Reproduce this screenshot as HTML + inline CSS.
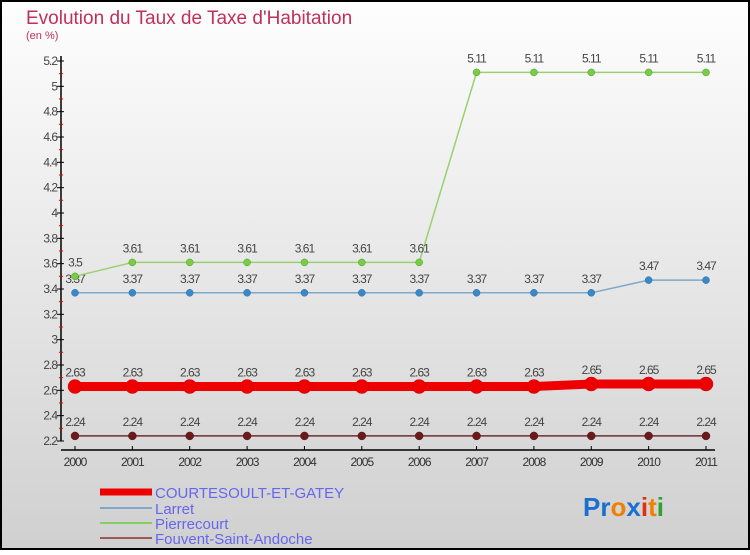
<!DOCTYPE html>
<html><head><meta charset="utf-8"><style>
body{margin:0;width:750px;height:550px;overflow:hidden;font-family:"Liberation Sans",sans-serif}
</style></head><body>
<svg id="c" width="750" height="550" xmlns="http://www.w3.org/2000/svg">
<defs><linearGradient id="bg" x1="0" y1="0" x2="0" y2="1"><stop offset="0" stop-color="#fefefe"/><stop offset="1" stop-color="#d0d0d0"/></linearGradient></defs>
<rect x="1" y="1" width="748" height="548" fill="url(#bg)" stroke="#000" stroke-width="2"/>
<text x="26" y="24" font-size="19" fill="#c0305a">Evolution du Taux de Taxe d'Habitation</text>
<text x="26" y="39" font-size="11" fill="#c0305a">(en %)</text>
<g id="axes"></g><g id="series"></g>
<g>
<line x1="100" y1="492" x2="152" y2="492" stroke="#e00" stroke-width="7"/>
<text x="155" y="498" font-size="15" fill="#6666ee">COURTESOULT-ET-GATEY</text>
<line x1="100" y1="508" x2="152" y2="508" stroke="#7ea8c8" stroke-width="2"/>
<text x="155" y="514" font-size="15" fill="#6666ee">Larret</text>
<line x1="100" y1="523" x2="152" y2="523" stroke="#88cc66" stroke-width="2"/>
<text x="155" y="529" font-size="15" fill="#6666ee">Pierrecourt</text>
<line x1="100" y1="538" x2="152" y2="538" stroke="#9a5a5a" stroke-width="2"/>
<text x="155" y="544" font-size="15" fill="#6666ee">Fouvent-Saint-Andoche</text>
</g>
<text x="583" y="516" font-size="26" font-weight="bold"><tspan fill="#1a6fd0">Pr</tspan><tspan fill="#f08000">o</tspan><tspan fill="#1a6fd0">x</tspan><tspan fill="#e03010">i</tspan><tspan fill="#f08000">t</tspan><tspan fill="#30a030">i</tspan></text>
</svg>
<script>
const years=[2000,2001,2002,2003,2004,2005,2006,2007,2008,2009,2010,2011];
const yTicks=[2.2,2.4,2.6,2.8,3,3.2,3.4,3.6,3.8,4,4.2,4.4,4.6,4.8,5,5.2];
const courtesoult=[2.63,2.63,2.63,2.63,2.63,2.63,2.63,2.63,2.63,2.65,2.65,2.65];
const larret=[3.37,3.37,3.37,3.37,3.37,3.37,3.37,3.37,3.37,3.37,3.47,3.47];
const pierrecourt=[3.5,3.61,3.61,3.61,3.61,3.61,3.61,5.11,5.11,5.11,5.11,5.11];
const fouvent=[2.24,2.24,2.24,2.24,2.24,2.24,2.24,2.24,2.24,2.24,2.24,2.24];
const NS="http://www.w3.org/2000/svg";
const xS=i=>75+i*(706-75)/11;
const yS=v=>441-(v-2.2)*(441-61)/3;
function mk(t,a,p){const e=document.createElementNS(NS,t);for(const k in a)e.setAttribute(k,a[k]);p.appendChild(e);return e;}
const ax=document.getElementById('axes');
const yl=mk('line',{x1:61,y1:56,x2:61,y2:441,stroke:'#000','stroke-width':1.5},ax);


const xl=mk('line',{x1:61,y1:450,x2:715,y2:450,stroke:'#000','stroke-width':1.5},ax);


yTicks.forEach((v,i)=>{const y=yS(v);mk('line',{x1:57,y1:y,x2:64,y2:y,stroke:'#000'},ax);
 if(i<yTicks.length-1)mk('line',{x1:59,y1:y-12.7,x2:63,y2:y-12.7,stroke:'#e00'},ax);
 const t=mk('text',{x:57,y:y+4,'font-size':12,'text-anchor':'end',fill:'#444','letter-spacing':'-1'},ax);t.textContent=String(v);
 
 });
years.forEach((yr,i)=>{const x=xS(i);mk('line',{x1:x,y1:446,x2:x,y2:450,stroke:'#000'},ax);
 const t=mk('text',{x:x,y:466,'font-size':12,'text-anchor':'middle',fill:'#333','letter-spacing':'-1'},ax);t.textContent=yr;
 
 });
const sg=document.getElementById('series');
function series(name,vals,color,w,r,fill,dot){
 const g=mk('g',{},sg);
 
 
 mk('polyline',{points:vals.map((v,i)=>xS(i)+','+yS(v)).join(' '),fill:'none',stroke:color,'stroke-width':w},g);
 vals.forEach((v,i)=>{const c=mk('circle',{cx:xS(i),cy:yS(v),r:r,fill:dot,stroke:fill,'stroke-width':0.5},g);
  
  
  const t=mk('text',{x:xS(i),y:yS(v)-10,'font-size':12,'text-anchor':'middle',fill:'#444','letter-spacing':'-1'},g);
  t.textContent=String(v).replace('.','.');
  
  });
}
series('fouvent-line',fouvent,'#6a3030',1.5,4,'#5a1a1a','#6a1a1a');
series('larret-line',larret,'#7ea8c8',1.5,3.5,'#2a6aa8','#3a88c8');
series('pierrecourt-line',pierrecourt,'#9ad070',1.5,3.5,'#4a9a2a','#7acc44');
series('courtesoult-line',courtesoult,'#e00',9,7,'#c00','#e00');
</script>
</body></html>
